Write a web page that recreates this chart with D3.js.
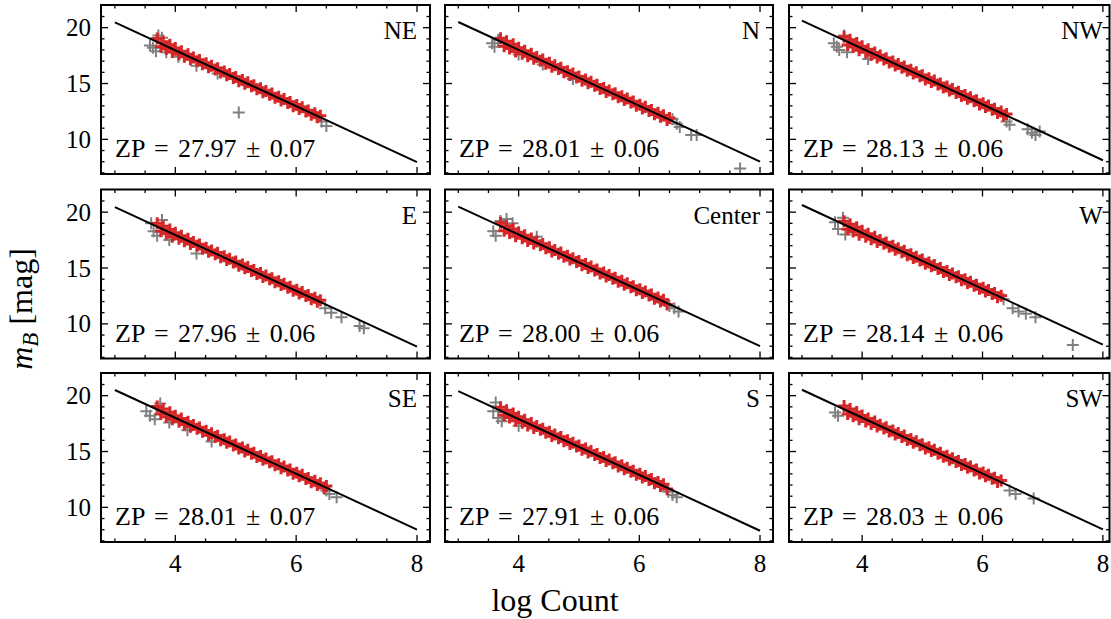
<!DOCTYPE html>
<html><head><meta charset="utf-8">
<script src="https://cdn.jsdelivr.net/npm/d3@7"></script>
<style>
body{margin:0;background:#fff}
svg text{font-family:"Liberation Serif","Times New Roman",serif;fill:#000}
</style>
</head><body><svg id="c" width="1111" height="619"></svg>
<script>
// ---------------- data ----------------
const panels = ["NE","N","NW","E","Center","W","SE","S","SW"];
const zp     = [27.97,28.01,28.13,27.96,28.00,28.14,28.01,27.91,28.03];
const zpErr  = [0.07,0.06,0.06,0.06,0.06,0.06,0.07,0.06,0.06];
const fitX   = [3, 8];
const fitNE = [20.47,7.97], fitN = [20.51,8.01], fitNW = [20.63,8.13],
      fitE  = [20.46,7.96], fitC = [20.50,8.00], fitW  = [20.64,8.14],
      fitSE = [20.51,8.01], fitS = [20.41,7.91], fitSW = [20.53,8.03];
const xTicksMajor = [4,6,8];
const yTicksMajor = [10,15,20];

// log Count positions of the accepted (red) stars
const redX = [3.70,3.76,3.80,3.85,3.91,3.95,4.00,4.06,4.10,4.15,4.21,4.25,4.30,4.36,4.40,4.45,4.51,4.55,4.60,4.66,
              4.70,4.75,4.81,4.85,4.90,4.96,5.00,5.05,5.11,5.15,5.20,5.26,5.30,5.35,5.41,5.45,5.50,5.56,5.60,5.65,
              5.71,5.75,5.80,5.86,5.90,5.95,6.01,6.05,6.10,6.16,6.20,6.25,6.31,6.35,6.40,6.46,6.50];
// m_B of the accepted (red) stars, per field
const redNE = [19.02,18.30,18.75,18.10,18.47,17.82,18.17,17.63,17.90,17.40,17.62,17.17,17.34,17.00,17.11,16.73,16.82,16.46,16.59,16.25,
               16.37,15.98,16.07,15.73,15.85,15.50,15.59,15.21,15.32,14.98,15.11,14.75,14.84,14.48,14.57,14.21,14.34,14.00,14.10,13.73,
               13.82,13.48,13.61,13.25,13.34,12.97,13.07,12.73,12.87,12.50,12.59,12.21,12.34,11.98,12.12];
const redN  = [19.06,18.34,18.79,18.14,18.51,17.86,18.21,17.67,17.94,17.44,17.66,17.21,17.38,17.04,17.15,16.77,16.86,16.50,16.63,16.29,
               16.41,16.02,16.11,15.77,15.89,15.54,15.63,15.25,15.36,15.02,15.15,14.79,14.88,14.52,14.61,14.25,14.38,14.04,14.14,13.77,
               13.86,13.52,13.65,13.29,13.38,13.01,13.11,12.77,12.91,12.54,12.63,12.25,12.38,12.02,12.16,11.74,11.91];
const redNW = [19.18,18.46,18.91,18.26,18.63,17.98,18.33,17.79,18.06,17.56,17.78,17.33,17.50,17.16,17.27,16.89,16.98,16.62,16.75,16.41,
               16.53,16.14,16.23,15.89,16.01,15.66,15.75,15.37,15.48,15.14,15.27,14.91,15.00,14.64,14.73,14.37,14.50,14.16,14.26,13.89,
               13.98,13.64,13.77,13.41,13.50,13.13,13.23,12.89,13.03,12.66,12.75,12.37,12.50,12.14,12.28];
const redE  = [19.01,18.29,18.74,18.09,18.46,17.81,18.16,17.62,17.89,17.39,17.61,17.16,17.33,16.99,17.10,16.72,16.81,16.45,16.58,16.24,
               16.36,15.97,16.06,15.72,15.84,15.49,15.58,15.20,15.31,14.97,15.10,14.74,14.83,14.47,14.56,14.20,14.33,13.99,14.09,13.72,
               13.81,13.47,13.60,13.24,13.33,12.96,13.06,12.72,12.86,12.49,12.58,12.20,12.33,11.97,12.11];
const redC  = [19.05,18.33,18.78,18.13,18.50,17.85,18.20,17.66,17.93,17.43,17.65,17.20,17.37,17.03,17.14,16.76,16.85,16.49,16.62,16.28,
               16.40,16.01,16.10,15.76,15.88,15.53,15.62,15.24,15.35,15.01,15.14,14.78,14.87,14.51,14.60,14.24,14.37,14.03,14.13,13.76,
               13.85,13.51,13.64,13.28,13.37,13.00,13.10,12.76,12.90,12.53,12.62,12.24,12.37,12.01,12.15,11.73];
const redW  = [19.19,18.47,18.92,18.27,18.64,17.99,18.34,17.80,18.07,17.57,17.79,17.34,17.51,17.17,17.28,16.90,16.99,16.63,16.76,16.42,
               16.54,16.15,16.24,15.90,16.02,15.67,15.76,15.38,15.49,15.15,15.28,14.92,15.01,14.65,14.74,14.38,14.51,14.17,14.27,13.90,
               13.99,13.65,13.78,13.42,13.51,13.14,13.24,12.90,13.04,12.67,12.76,12.38,12.51];
const redSE = [19.04,18.36,18.80,18.12,18.51,17.88,18.20,17.67,17.95,17.43,17.66,17.22,17.38,17.03,17.16,16.77,16.86,16.49,16.63,16.30,
               16.41,16.01,16.11,15.78,15.89,15.53,15.63,15.26,15.36,15.01,15.15,14.80,14.88,14.51,14.61,14.26,14.38,14.03,14.14,13.78,
               13.86,13.51,13.65,13.30,13.38,13.00,13.11,12.78,12.91,12.53,12.63,12.26,12.38,12.01,12.16,11.75,11.91];
const redS  = [18.96,18.24,18.69,18.04,18.41,17.76,18.11,17.57,17.84,17.34,17.56,17.11,17.28,16.94,17.05,16.67,16.76,16.40,16.53,16.19,
               16.31,15.92,16.01,15.67,15.79,15.44,15.53,15.15,15.26,14.92,15.05,14.69,14.78,14.42,14.51,14.15,14.28,13.94,14.04,13.67,
               13.76,13.42,13.55,13.19,13.28,12.91,13.01,12.67,12.81,12.44,12.53,12.15,12.28,11.92,12.06,11.64];
const redSW = [19.08,18.36,18.81,18.16,18.53,17.88,18.23,17.69,17.96,17.46,17.68,17.23,17.40,17.06,17.17,16.79,16.88,16.52,16.65,16.31,
               16.43,16.04,16.13,15.79,15.91,15.56,15.65,15.27,15.38,15.04,15.17,14.81,14.90,14.54,14.63,14.27,14.40,14.06,14.16,13.79,
               13.88,13.54,13.67,13.31,13.40,13.03,13.13,12.79,12.93,12.56,12.65,12.27,12.40];

// rejected (gray) stars: [log Count, m_B]
const grayNE = [[3.58,18.4],[3.63,18.2],[3.72,19.3],[3.78,19.1],[3.68,17.9],[3.85,17.8],[4.05,17.4],[4.35,16.6],[4.7,15.9],[5.05,12.4],[6.42,11.6],[6.5,11.2]];
const grayN  = [[3.56,18.6],[3.6,18.3],[3.66,18.9],[4.0,17.6],[4.4,16.7],[4.9,15.4],[6.55,11.8],[6.62,11.4],[6.67,11.1],[6.86,10.4],[6.95,10.4],[7.67,7.4]];
const grayNW = [[3.53,18.6],[3.58,18.3],[3.62,18.0],[3.7,19.3],[3.75,17.8],[4.1,17.2],[6.4,11.6],[6.45,11.3],[6.75,10.9],[6.82,10.6],[6.88,10.4],[6.95,10.7]];
const grayE  = [[3.6,19.0],[3.64,18.3],[3.7,17.9],[3.78,19.3],[3.9,17.5],[4.35,16.3],[6.48,11.4],[6.58,11.0],[6.75,10.6],[7.05,9.8],[7.12,9.6]];
const grayC  = [[3.58,18.3],[3.62,17.9],[3.7,19.2],[3.8,19.4],[3.9,19.0],[4.3,17.8],[6.5,11.6],[6.58,11.4],[6.65,11.1]];
const grayW  = [[3.55,19.1],[3.6,18.5],[3.68,19.5],[3.72,18.0],[6.35,12.2],[6.5,11.4],[6.6,11.1],[6.72,10.9],[6.88,10.6],[7.5,8.1]];
const graySE = [[3.52,18.6],[3.58,18.2],[3.66,17.9],[3.75,19.3],[3.9,17.6],[4.2,16.9],[4.6,15.9],[6.5,11.5],[6.55,11.2],[6.67,10.9]];
const grayS  = [[3.58,18.6],[3.62,19.4],[3.66,18.0],[3.72,17.7],[4.0,17.3],[6.48,11.4],[6.55,11.1],[6.62,10.9]];
const graySW = [[3.55,18.5],[3.6,18.2],[3.7,19.0],[6.45,11.5],[6.55,11.2],[6.85,10.8]];

const redAll  = [redNE,redN,redNW,redE,redC,redW,redSE,redS,redSW];
const grayAll = [grayNE,grayN,grayNW,grayE,grayC,grayW,graySE,grayS,graySW];
const fitAll  = [fitNE,fitN,fitNW,fitE,fitC,fitW,fitSE,fitS,fitSW];

// ---------------- layout ----------------
const svg = d3.select("#c");
const colLeft  = [101, 445, 789];
const colRight = [430, 773, 1109.5];
const colDom   = [[2.77,8.215],[2.78,8.215],[2.785,8.11]];
const rowTop   = [5, 189.5, 373];
const panelH   = 169;
const yDom     = [6.9, 22.03];
const red = "#d62728", gray = "#808080";
const plus = "M-6,0H6M0,-6V6";

panels.forEach((name, i) => {
  const c = i % 3, r = Math.floor(i / 3);
  const x0 = colLeft[c], x1 = colRight[c], y0 = rowTop[r], y1 = y0 + panelH;
  const x = d3.scaleLinear().domain(colDom[c]).range([x0, x1]);
  const y = d3.scaleLinear().domain(yDom).range([y1, y0]);
  const g = svg.append("g");
  const clipId = "clip" + i;
  g.append("clipPath").attr("id", clipId).append("rect")
    .attr("x", x0).attr("y", y0).attr("width", x1 - x0).attr("height", panelH);
  const pg = g.append("g").attr("clip-path", `url(#${clipId})`);

  // rejected stars
  pg.selectAll(".g").data(grayAll[i]).join("path")
    .attr("d", plus).attr("transform", d => `translate(${x(d[0])},${y(d[1])})`)
    .attr("stroke", gray).attr("stroke-width", 2).attr("fill", "none");
  // accepted stars
  pg.selectAll(".r").data(redAll[i]).join("path")
    .attr("d", plus).attr("transform", (d, k) => `translate(${x(redX[k])},${y(d)})`)
    .attr("stroke", red).attr("stroke-width", 3).attr("fill", "none");
  // fit line
  pg.append("path")
    .attr("d", d3.line()([[x(fitX[0]), y(fitAll[i][0])], [x(fitX[1]), y(fitAll[i][1])]]))
    .attr("stroke", "#000").attr("stroke-width", 2).attr("fill", "none");

  // ticks (inward, all sides)
  const xMinor = d3.range(3, 8.01, 0.5).filter(v => !xTicksMajor.includes(v));
  const yMinor = d3.range(7, 22, 1).filter(v => !yTicksMajor.includes(v));
  const tk = g.append("g").attr("stroke", "#000").attr("stroke-width", 1.3);
  const addX = (vals, len) => vals.forEach(v => {
    tk.append("line").attr("x1", x(v)).attr("x2", x(v)).attr("y1", y1).attr("y2", y1 - len);
    tk.append("line").attr("x1", x(v)).attr("x2", x(v)).attr("y1", y0).attr("y2", y0 + len);
  });
  const addY = (vals, len) => vals.forEach(v => {
    tk.append("line").attr("y1", y(v)).attr("y2", y(v)).attr("x1", x0).attr("x2", x0 + len);
    tk.append("line").attr("y1", y(v)).attr("y2", y(v)).attr("x1", x1).attr("x2", x1 - len);
  });
  addX(xTicksMajor, 7); addX(xMinor, 3.5);
  addY(yTicksMajor, 7); addY(yMinor, 3.5);

  // frame
  g.append("rect").attr("x", x0).attr("y", y0).attr("width", x1 - x0).attr("height", panelH)
    .attr("fill", "none").attr("stroke", "#000").attr("stroke-width", 2);

  // tick labels
  if (c === 0) yTicksMajor.forEach(v => {
    g.append("text").attr("x", x0 - 10).attr("y", y(v)).attr("dy", "0.34em")
      .attr("text-anchor", "end").attr("font-size", 25).text(v);
  });
  if (r === 2) xTicksMajor.forEach(v => {
    g.append("text").attr("x", x(v)).attr("y", y1 + 30)
      .attr("text-anchor", "middle").attr("font-size", 25).text(v);
  });

  // panel name
  g.append("text").attr("x", x(8)).attr("y", y0 + 34).attr("text-anchor", "end")
    .attr("font-size", 25).text(name);
  // zero point
  g.append("text").attr("x", x0 + 14).attr("y", y0 + 152).attr("font-size", 26)
    .attr("word-spacing", 3)
    .text(`ZP = ${zp[i].toFixed(2)} \u00B1 ${zpErr[i].toFixed(2)}`);
});

// axis titles
svg.append("text").attr("x", 555).attr("y", 611).attr("text-anchor", "middle")
  .attr("font-size", 32).text("log Count");
const yl = svg.append("text").attr("transform", "translate(32,309) rotate(-90)")
  .attr("text-anchor", "middle").attr("font-size", 32);
yl.append("tspan").attr("font-style", "italic").text("m");
yl.append("tspan").attr("font-style", "italic").attr("font-size", 23).attr("dy", 6).text("B");
yl.append("tspan").attr("dy", -6).text(" [mag]");
</script>
</body></html>
